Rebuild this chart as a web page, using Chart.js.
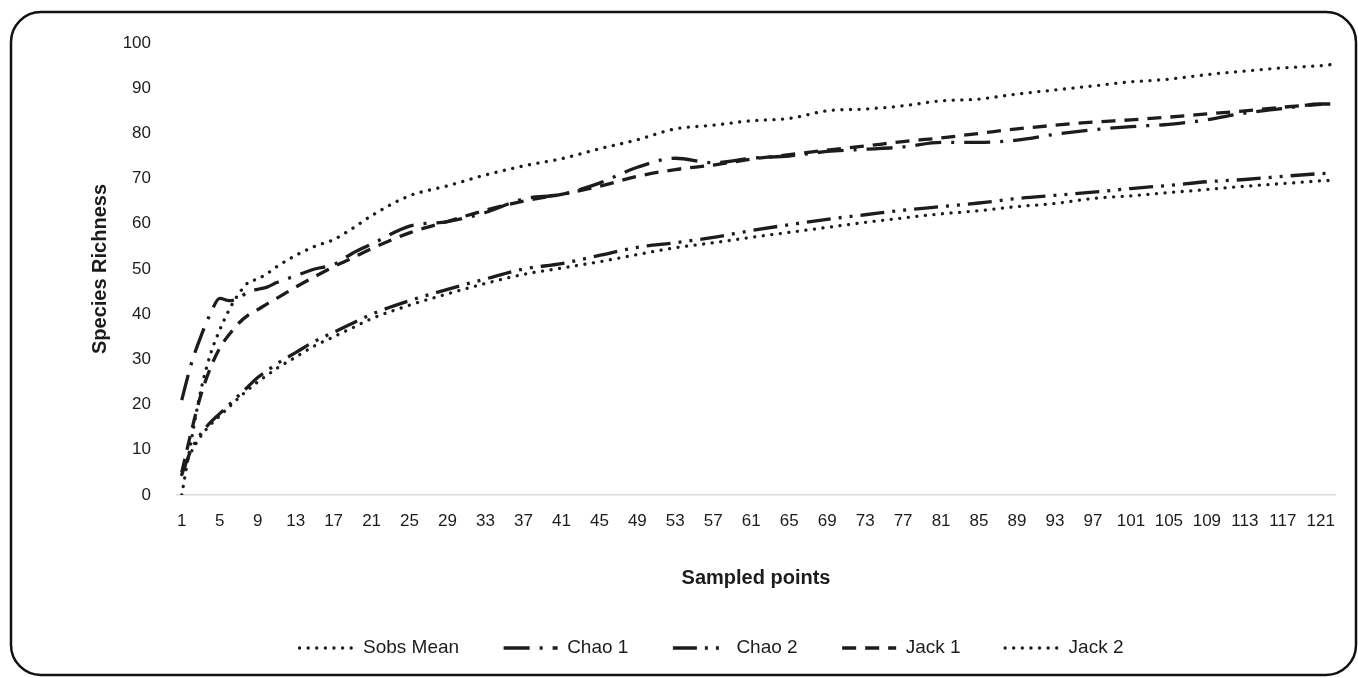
<!DOCTYPE html>
<html>
<head>
<meta charset="utf-8">
<title>Species Richness</title>
<script src="https://cdn.jsdelivr.net/npm/chart.js@4"></script>
<style>
  html, body { margin: 0; padding: 0; background: #fff; }
  canvas { display: block; }
</style>
</head>
<body>
<canvas id="richnessChart" width="1358" height="678"></canvas>
<script>
const samples = [1, 2, 3, 4, 5, 6, 7, 8, 9, 10, 11, 13, 15, 17, 19, 21, 25, 29, 33, 37, 41, 45, 49, 53, 57, 61, 65, 69, 73, 77, 81, 85, 89, 93, 97, 101, 105, 109, 113, 117, 121, 122];

const sobsMean = [4.5, 9.5, 13, 15.5, 17.5, 19.5, 21.5, 23.3, 25, 26.5, 28, 30.5, 33, 35, 37, 39, 42, 44.5, 46.8, 48.8, 50.2, 51.6, 53.2, 54.7, 55.8, 57, 58.1, 59.2, 60.3, 61.3, 62.2, 62.9, 63.8, 64.5, 65.6, 66.2, 66.9, 67.6, 68.3, 68.9, 69.5, 69.6];
const chao1 = [21, 29, 35, 40, 43.5, 43, 43.5, 45, 45.5, 46, 47, 48.5, 50, 51, 53.5, 55.5, 59.5, 60.5, 62.5, 65.5, 66.5, 69, 72.5, 74.5, 73.5, 74.5, 75, 76, 76.5, 77, 78, 78, 78.5, 79.8, 80.8, 81.5, 82, 83, 84.5, 85.5, 86.5, 86.5];
const chao2 = [4.5, 10, 13.5, 16, 18, 20, 22, 24, 26, 27.5, 29, 31.5, 34, 36, 38, 40, 43, 45.5, 47.8, 50, 51.2, 53, 54.8, 55.8, 57, 58.5, 59.8, 61, 62, 63, 63.8, 64.6, 65.6, 66.3, 67, 67.8, 68.5, 69.3, 69.8, 70.5, 71.1, 71.2];
const jack1 = [5, 14, 22, 28, 32.5, 35.5, 38, 39.8, 41, 42.3, 43.5, 46, 48.3, 50.5, 52.5, 54.5, 58, 60.5, 63, 65, 66.5, 68.3, 70.5, 72, 73, 74.3, 75.3, 76.3, 77.2, 78.2, 79, 80, 81, 81.8, 82.5, 83, 83.6, 84.3, 85, 85.8, 86.4, 86.5];
const jack2 = [0, 12, 23, 31, 36.5, 41, 44.5, 47, 47.8, 49, 50.5, 53, 55, 56.5, 59, 61.8, 66.2, 68.4, 70.8, 72.8, 74.4, 76.6, 78.6, 81, 81.8, 82.8, 83.3, 85, 85.4, 86.1, 87.2, 87.6, 88.7, 89.6, 90.5, 91.4, 92, 93, 93.8, 94.5, 95, 95.2];

const xTickLabels = [1, 5, 9, 13, 17, 21, 25, 29, 33, 37, 41, 45, 49, 53, 57, 61, 65, 69, 73, 77, 81, 85, 89, 93, 97, 101, 105, 109, 113, 117, 121];
const yTickLabels = [0, 10, 20, 30, 40, 50, 60, 70, 80, 90, 100];

const FONT = '"Liberation Sans", Arial, sans-serif';
const INK = '#1c1c1c';

function toPoints(values) {
    return samples.map((s, i) => ({ x: s, y: values[i] }));
}

function series(label, values, dash, cap) {
    return {
        label: label,
        data: toPoints(values),
        borderColor: INK,
        backgroundColor: INK,
        borderWidth: 3.3,
        borderDash: dash,
        borderCapStyle: cap,
        pointRadius: 0,
        fill: false,
        cubicInterpolationMode: 'monotone'
    };
}

// rounded frame around the whole figure
const framePlugin = {
    id: 'frame',
    afterDraw(chart) {
        const ctx = chart.ctx;
        ctx.save();
        ctx.lineWidth = 2.5;
        ctx.strokeStyle = '#111';
        ctx.setLineDash([]);
        ctx.beginPath();
        ctx.roundRect(11, 12, 1345, 663, 30);
        ctx.stroke();
        ctx.restore();
    }
};

const ctx = document.getElementById('richnessChart').getContext('2d');
new Chart(ctx, {
    type: 'line',
    data: {
        datasets: [
            series('Sobs Mean', sobsMean, [0.1, 8.5], 'round'),
            series('Chao 1', chao1, [26, 10, 3, 10], 'butt'),
            series('Chao 2', chao2, [24, 8, 3, 8, 3, 8], 'butt'),
            series('Jack 1', jack1, [14, 9], 'butt'),
            series('Jack 2', jack2, [0.1, 8.5], 'round')
        ]
    },
    options: {
        responsive: false,
        devicePixelRatio: 1,
        animation: false,
        layout: {
            padding: { left: 88, right: 23, top: 43, bottom: 10.5 }
        },
        plugins: {
            legend: {
                position: 'bottom',
                labels: {
                    usePointStyle: true,
                    pointStyle: 'line',
                    pointStyleWidth: 54,
                    padding: 44.5,
                    color: INK,
                    font: { family: FONT, size: 19 },
                    generateLabels(chart) {
                        // point style items lose the dash, so copy the line style back in
                        const items = Chart.defaults.plugins.legend.labels.generateLabels(chart);
                        items.forEach(item => {
                            const ds = chart.data.datasets[item.datasetIndex];
                            item.lineDash = ds.borderDash;
                            item.lineCap = ds.borderCapStyle;
                            item.lineWidth = ds.borderWidth;
                            item.strokeStyle = ds.borderColor;
                            item.pointStyle = 'line';
                        });
                        return items;
                    }
                }
            },
            tooltip: { enabled: false }
        },
        scales: {
            x: {
                type: 'linear',
                min: 0.5,
                max: 122.5,
                grid: { display: false },
                border: { display: true, color: '#d9d9d9', width: 1.5 },
                afterBuildTicks(scale) {
                    scale.ticks = xTickLabels.map(v => ({ value: v }));
                },
                afterFit(scale) {
                    scale.height = 99;
                },
                ticks: {
                    color: INK,
                    padding: 8,
                    maxRotation: 0,
                    autoSkip: false,
                    font: { family: FONT, size: 17 }
                },
                title: {
                    display: true,
                    text: 'Sampled points',
                    color: INK,
                    padding: { top: 4, bottom: 4 },
                    font: { family: FONT, size: 20, weight: 'bold' }
                }
            },
            y: {
                min: 0,
                max: 100,
                grid: { display: false },
                border: { display: false },
                afterBuildTicks(scale) {
                    scale.ticks = yTickLabels.map(v => ({ value: v }));
                },
                afterFit(scale) {
                    scale.width = 89;
                },
                ticks: {
                    color: INK,
                    padding: 18,
                    font: { family: FONT, size: 17 }
                },
                title: {
                    display: true,
                    text: 'Species Richness',
                    color: INK,
                    padding: { top: 0, bottom: 0 },
                    font: { family: FONT, size: 20, weight: 'bold' }
                }
            }
        }
    },
    plugins: [framePlugin]
});
</script>
</body>
</html>
